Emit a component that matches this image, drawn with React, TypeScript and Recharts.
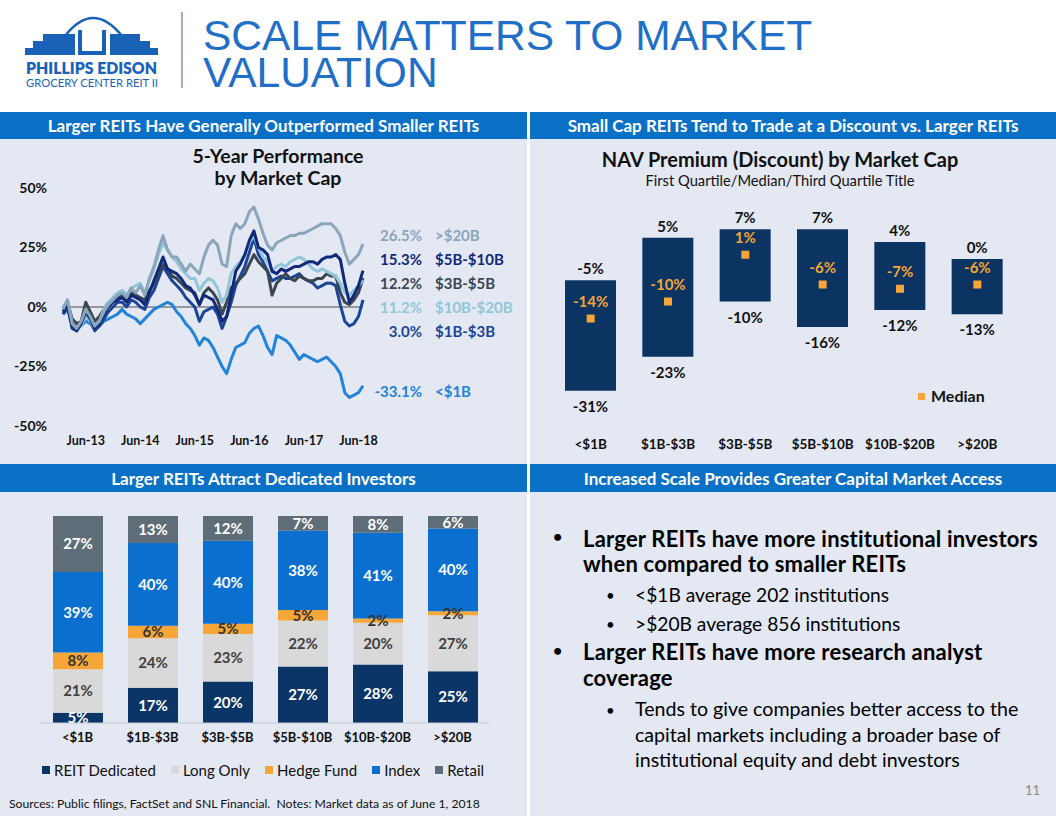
import React from "react";
import {
  LineChart,
  Line,
  XAxis,
  YAxis,
  ReferenceLine,
  BarChart,
  Bar,
  LabelList,
  ComposedChart,
} from "recharts";

const FONT = "Lato, 'Open Sans', sans-serif";
const HEAD_BLUE = "#0a70c6";
const PANEL_BG = "#e3e8f3";

// ---- 5-year performance (monthly, Jan-13 .. Jul-18), % return ----
const perfTicks = [5, 17, 29, 41, 53, 65];
const perfTickLabels = ["Jun-13", "Jun-14", "Jun-15", "Jun-16", "Jun-17", "Jun-18"];

const lt1B = [
  -3, -1, -7, -9, -8, -6, -7, -9, -8, -6, -5, -4, -3, -1, -3,
  -4, -5, -7, -5, -3, -1, 0, 1, 2, 1, -2, -4, -7, -9, -12, -16, -13, -14, -17, -21,
  -25, -28, -22, -17, -16, -15, -11, -9, -8, -12, -17, -20, -12, -13, -14, -16, -19,
  -22, -20, -21, -22, -23, -22, -21, -23, -25, -28, -36, -38, -37, -36, -33.1,
];
const b1to3 = [
  -3, 0, -9, -10, -7, -4, -6, -10, -8, -5, -2, 0, 2, 2, 0,
  3, 2, 0, -1, 4, 7, 12, 17, 14, 11, 9, 7, 4, 2, 0, -6, -2, -1, 0, -3, -9, -4, 2, 9,
  13, 17, 23, 29, 22, 19, 15, 11, 12, 13, 12, 12, 13, 14, 12, 11, 10, 8, 9, 10, 10, 9,
  1, -6, -8, -7, -4, 3.0,
];
const b3to5 = [
  -1, 2, -5, -7, -6, 2, -2, -6, -4, -1, 2, 3, 4, 5, 3,
  6, 5, 4, 3, 7, 10, 14, 18, 16, 13, 12, 10, 8, 7, 6, 1, 6, 8, 6, 3, -3, 2, 8, 10, 12,
  14, 18, 22, 19, 17, 15, 5, 10, 12, 14, 12, 11, 13, 12, 11, 11, 12, 12, 14, 13, 13, 6,
  2, 1, 3, 6, 12.2,
];
const b10to20 = [
  0, 3, -7, -10, -8, -4, -6, -9, -6, -1, 2, 4, 6, 7, 5,
  8, 9, 10, 6, 11, 16, 22, 27, 24, 21, 19, 16, 14, 12, 12, 7, 10, 12, 11, 8, 2, 5, 14,
  17, 19, 22, 27, 30, 25, 21, 19, 15, 17, 18, 17, 19, 20, 21, 20, 18, 16, 15, 16, 15,
  14, 13, 10, 6, 5, 7, 9, 11.2,
];
const b5to10 = [
  -2, 1, -8, -10, -7, -2, -5, -9, -7, -3, 0, 2, 3, 4, 2,
  5, 4, 3, 1, 6, 11, 16, 21, 16, 15, 14, 12, 9, 8, 5, 1, 5, 4, 3, -1, -6, -4, 5, 15, 18,
  22, 28, 32, 25, 24, 22, 15, 14, 16, 15, 16, 17, 17, 18, 19, 19, 18, 20, 21, 21, 22, 20,
  10, 2, 5, 9, 15.3,
];
const gt20B = [
  -1, 3, -7, -9, -6, -1, -4, -8, -6, -2, 1, 3, 5, 6, 4,
  8, 6, 9, 5, 12, 17, 24, 30, 24, 21, 21, 18, 15, 18, 16, 14, 21, 26, 28, 26, 18, 17, 30,
  35, 33, 35, 40, 42, 37, 31, 26, 24, 27, 28, 29, 30, 30, 31, 31, 32, 33, 34, 35, 35, 35,
  33, 30, 23, 18, 20, 22, 26.5,
];

const perfSeries = [
  { key: "lt1B", values: lt1B, color: "#2383d9", label: "<$1B", final: "-33.1%" },
  { key: "b1to3", values: b1to3, color: "#1b4597", label: "$1B-$3B", final: "3.0%" },
  { key: "b3to5", values: b3to5, color: "#3a4651", label: "$3B-$5B", final: "12.2%" },
  { key: "b10to20", values: b10to20, color: "#92c6d9", label: "$10B-$20B", final: "11.2%" },
  { key: "b5to10", values: b5to10, color: "#11297a", label: "$5B-$10B", final: "15.3%" },
  { key: "gt20B", values: gt20B, color: "#8ba5bb", label: ">$20B", final: "26.5%" },
];
// order of the end-labels, top to bottom
const perfLabelOrder = ["gt20B", "b5to10", "b3to5", "b10to20", "b1to3", "lt1B"];
const perfLabelTop = [226, 250, 274, 298, 322, 382];

const perfData = lt1B.map((_, i) => {
  const row: Record<string, number> = { m: i };
  perfSeries.forEach((s) => (row[s.key] = s.values[i]));
  return row;
});

// ---- NAV premium (discount) ----
const navCats = ["<$1B", "$1B-$3B", "$3B-$5B", "$5B-$10B", "$10B-$20B", ">$20B"];
const navQ1 = [-31, -23, -10, -16, -12, -13];
const navMedian = [-14, -10, 1, -6, -7, -6];
const navQ3 = [-5, 5, 7, 7, 4, 0];

const navData = navCats.map((c, i) => ({
  cat: c,
  range: [navQ1[i], navQ3[i]],
  median: navMedian[i],
}));

// ---- investor mix ----
const mixCats = ["<$1B", "$1B-$3B", "$3B-$5B", "$5B-$10B", "$10B-$20B", ">$20B"];
const reitDedicated = [5, 17, 20, 27, 28, 25];
const longOnly = [21, 24, 23, 22, 20, 27];
const hedgeFund = [8, 6, 5, 5, 2, 2];
const indexFunds = [39, 40, 40, 38, 41, 40];
const retail = [27, 13, 12, 7, 8, 6];

const mixData = mixCats.map((c, i) => ({
  cat: c,
  reit: reitDedicated[i],
  longOnly: longOnly[i],
  hedge: hedgeFund[i],
  index: indexFunds[i],
  retail: retail[i],
}));

const mixSeries = [
  { key: "reit", name: "REIT Dedicated", color: "#0b3566", text: "#ffffff" },
  { key: "longOnly", name: "Long Only", color: "#d9d9d9", text: "#404040" },
  { key: "hedge", name: "Hedge Fund", color: "#f5a636", text: "#333333" },
  { key: "index", name: "Index", color: "#0b6fcf", text: "#ffffff" },
  { key: "retail", name: "Retail", color: "#5f6d79", text: "#ffffff" },
];

const RangeLabels = (props: any) => {
  const { x, y, width, height, value } = props;
  if (!Array.isArray(value)) return null;
  const top = Math.min(y, y + height);
  const bottom = Math.max(y, y + height);
  const cx = x + width / 2;
  return (
    <g fontFamily={FONT} fontWeight={700} fontSize={15} fill="#111">
      <text x={cx} y={top - 6} textAnchor="middle">{`${value[1]}%`}</text>
      <text x={cx} y={bottom + 21} textAnchor="middle">{`${value[0]}%`}</text>
    </g>
  );
};

const MedianDot = (props: any) => {
  const { cx, cy, value, index } = props;
  if (cx == null || cy == null) return <g key={index} />;
  return (
    <g key={index}>
      <rect x={cx - 4} y={cy - 4} width={8} height={8} fill="#f5a636" />
      <text
        x={cx}
        y={cy - 12}
        textAnchor="middle"
        fontFamily={FONT}
        fontWeight={700}
        fontSize={15}
        fill="#f5a636"
      >{`${value}%`}</text>
    </g>
  );
};

function Header() {
  return (
    <svg width={1056} height={110} style={{ position: "absolute", left: 0, top: 0 }}>
      <g fill="#1a62b8">
        <path d="M65 36 Q93 0 122 36" stroke="#1a62b8" strokeWidth={2.5} fill="none" />
        <polygon points="25,55 25,48 33,48 33,41 43,41 43,34 75,34 75,55" />
        <polygon points="110,34 140,34 140,41 150,41 150,48 158,48 158,55 110,55" />
        <rect x={78} y={30} width={4} height={25} />
        <rect x={102} y={30} width={4} height={25} />
        <rect x={78} y={51} width={28} height={4} />
        <text
          x={26}
          y={74}
          fontFamily={FONT}
          fontWeight={800}
          fontSize={16}
          textLength={131}
          lengthAdjust="spacingAndGlyphs"
        >PHILLIPS EDISON</text>
        <text
          x={26}
          y={87}
          fontFamily={FONT}
          fontSize={11.5}
          textLength={132}
          lengthAdjust="spacingAndGlyphs"
        >GROCERY CENTER REIT II</text>
      </g>
      <line x1={182} y1={12} x2={182} y2={88} stroke="#7f93b3" strokeWidth={1.5} />
      <g fill="#1f6fc8" fontFamily="'Liberation Sans', Arial, sans-serif" fontSize={42.5}>
        <text x={203} y={50}>SCALE MATTERS TO MARKET</text>
        <text x={203} y={87}>VALUATION</text>
      </g>
    </svg>
  );
}

const barText: React.CSSProperties = {
  position: "absolute",
  background: HEAD_BLUE,
  color: "#fff",
  fontFamily: FONT,
  fontWeight: 700,
  fontSize: 17,
  display: "flex",
  alignItems: "center",
  justifyContent: "center",
  height: 27,
  whiteSpace: "nowrap",
};

export default function App() {
  return (
    <div
      style={{
        position: "absolute",
        left: 0,
        top: 0,
        width: 1056,
        height: 816,
        background: "#fff",
        overflow: "hidden",
        fontFamily: FONT,
      }}
    >
      <Header />

      {/* panels */}
      <div style={{ position: "absolute", left: 0, top: 139, width: 527, height: 325, background: PANEL_BG }} />
      <div style={{ position: "absolute", left: 530, top: 139, width: 526, height: 325, background: PANEL_BG }} />
      <div style={{ position: "absolute", left: 0, top: 492, width: 527, height: 324, background: PANEL_BG }} />
      <div style={{ position: "absolute", left: 530, top: 492, width: 526, height: 324, background: PANEL_BG }} />

      <div style={{ ...barText, left: 0, top: 112, width: 527 }}>Larger REITs Have Generally Outperformed Smaller REITs</div>
      <div style={{ ...barText, left: 530, top: 112, width: 526 }}>Small Cap REITs Tend to Trade at a Discount vs. Larger REITs</div>
      <div style={{ ...barText, left: 0, top: 464, width: 527, height: 28 }}>Larger REITs Attract Dedicated Investors</div>
      <div style={{ ...barText, left: 530, top: 464, width: 526, height: 28 }}>Increased Scale Provides Greater Capital Market Access</div>

      {/* 5-year performance */}
      <div
        style={{
          position: "absolute",
          left: 168,
          top: 145,
          width: 220,
          textAlign: "center",
          fontWeight: 700,
          fontSize: 19.5,
          lineHeight: "22px",
          color: "#111",
        }}
      >
        5-Year Performance
        <br />
        by Market Cap
      </div>
      <div style={{ position: "absolute", left: 0, top: 139 }}>
        <LineChart width={527} height={317} data={perfData} margin={{ top: 49, right: 164, bottom: 0, left: 13 }}>
          <XAxis
            dataKey="m"
            type="number"
            domain={[0, 66]}
            ticks={perfTicks}
            tickFormatter={(v: number) => perfTickLabels[perfTicks.indexOf(v)] ?? ""}
            axisLine={false}
            tickLine={false}
            height={30}
            tickMargin={4}
            tick={{ fontSize: 12.5, fontWeight: 700, fill: "#111", fontFamily: FONT }}
          />
          <YAxis
            width={50}
            domain={[-50, 50]}
            ticks={[-50, -25, 0, 25, 50]}
            tickFormatter={(v: number) => `${v}%`}
            axisLine={false}
            tickLine={false}
            tickMargin={10}
            tick={{ fontSize: 14, fontWeight: 700, fill: "#111", fontFamily: FONT }}
          />
          <ReferenceLine y={0} stroke="#7f7f7f" strokeWidth={1.5} />
          {perfSeries.map((s) => (
            <Line
              key={s.key}
              dataKey={s.key}
              stroke={s.color}
              strokeWidth={3}
              strokeLinejoin="round"
              dot={false}
              activeDot={false}
              type="linear"
              isAnimationActive={false}
            />
          ))}
        </LineChart>
      </div>
      {perfLabelOrder.map((k, i) => {
        const s = perfSeries.find((p) => p.key === k)!;
        return (
          <div
            key={k}
            style={{
              position: "absolute",
              top: perfLabelTop[i],
              left: 340,
              fontWeight: 700,
              fontSize: 15,
              lineHeight: "18px",
              color: s.color,
              whiteSpace: "nowrap",
            }}
          >
            <span style={{ display: "inline-block", width: 82, textAlign: "right" }}>{s.final}</span>
            <span style={{ display: "inline-block", marginLeft: 13 }}>{s.label}</span>
          </div>
        );
      })}

      {/* NAV premium */}
      <div
        style={{
          position: "absolute",
          left: 560,
          top: 148,
          width: 440,
          textAlign: "center",
          color: "#111",
        }}
      >
        <div style={{ fontWeight: 700, fontSize: 20, lineHeight: "23px" }}>NAV Premium (Discount) by Market Cap</div>
        <div style={{ fontSize: 14.7, lineHeight: "18px" }}>First Quartile/Median/Third Quartile Title</div>
      </div>
      <div style={{ position: "absolute", left: 530, top: 140 }}>
        <ComposedChart width={526} height={320} data={navData} margin={{ top: 34, right: 40, bottom: 1, left: 22 }}>
          <XAxis
            dataKey="cat"
            axisLine={false}
            tickLine={false}
            height={30}
            tickMargin={4}
            tick={{ fontSize: 13.5, fontWeight: 700, fill: "#111", fontFamily: FONT }}
          />
          <YAxis hide domain={[-40, 20]} allowDataOverflow />
          <Bar dataKey="range" fill="#0b3463" barSize={51} isAnimationActive={false}>
            <LabelList dataKey="range" content={RangeLabels} />
          </Bar>
          <Line
            dataKey="median"
            stroke="none"
            dot={MedianDot}
            activeDot={false}
            isAnimationActive={false}
          />
        </ComposedChart>
      </div>
      <div
        style={{
          position: "absolute",
          left: 918,
          top: 386,
          fontWeight: 700,
          fontSize: 16,
          color: "#111",
          display: "flex",
          alignItems: "center",
          lineHeight: "20px",
        }}
      >
        <span style={{ width: 7, height: 7, background: "#f5a636", marginRight: 6 }} />
        Median
      </div>

      {/* investor mix */}
      <div style={{ position: "absolute", left: 0, top: 492 }}>
        <BarChart
          width={527}
          height={260}
          data={mixData}
          stackOffset="expand"
          margin={{ top: 24, right: 37, bottom: 1, left: 40 }}
        >
          <XAxis
            dataKey="cat"
            axisLine={{ stroke: "#c5cbd6" }}
            tickLine={false}
            height={28}
            tickMargin={4}
            tick={{ fontSize: 13, fontWeight: 700, fill: "#111", fontFamily: FONT }}
          />
          <YAxis hide domain={[0, 1]} />
          {mixSeries.map((s) => (
            <Bar key={s.key} dataKey={s.key} stackId="a" fill={s.color} barSize={50} isAnimationActive={false}>
              <LabelList
                dataKey={s.key}
                position="center"
                formatter={(v: any) => `${v}%`}
                fill={s.text}
                fontSize={15}
                fontWeight={700}
                fontFamily={FONT}
              />
            </Bar>
          ))}
        </BarChart>
      </div>
      <div
        style={{
          position: "absolute",
          left: 42,
          top: 760,
          display: "flex",
          fontSize: 15,
          color: "#111",
          lineHeight: "20px",
          whiteSpace: "nowrap",
        }}
      >
        {mixSeries.map((s, i) => (
          <span key={s.key} style={{ display: "flex", alignItems: "center", marginRight: i < 4 ? 15 : 0 }}>
            <span style={{ width: 8, height: 8, background: s.color, marginRight: 4 }} />
            {s.name}
          </span>
        ))}
      </div>
      <div style={{ position: "absolute", left: 9, top: 796, fontSize: 12.2, color: "#111", whiteSpace: "nowrap" }}>
        Sources: Public filings, FactSet and SNL Financial.&nbsp; Notes: Market data as of June 1, 2018
      </div>

      {/* capital market access */}
      <div style={{ position: "absolute", left: 530, top: 492, width: 526, height: 324, color: "#000" }}>
        <div style={{ position: "absolute", left: 23, top: 34, fontSize: 16, fontWeight: 700 }}>•</div>
        <div
          style={{
            position: "absolute",
            left: 53,
            top: 34,
            fontSize: 22,
            fontWeight: 700,
            letterSpacing: 0.2,
            lineHeight: "25px",
            whiteSpace: "nowrap",
          }}
        >
          Larger REITs have more institutional investors
          <br />
          when compared to smaller REITs
        </div>
        <div style={{ position: "absolute", left: 76, top: 89, fontSize: 15, lineHeight: "29px" }}>
          •<br />•
        </div>
        <div style={{ position: "absolute", left: 105, top: 88, fontSize: 19.2, lineHeight: "29px", whiteSpace: "nowrap" }}>
          &lt;$1B average 202 institutions
          <br />
          &gt;$20B average 856 institutions
        </div>
        <div style={{ position: "absolute", left: 23, top: 148, fontSize: 16, fontWeight: 700 }}>•</div>
        <div
          style={{
            position: "absolute",
            left: 53,
            top: 147,
            fontSize: 22,
            fontWeight: 700,
            letterSpacing: 0.2,
            lineHeight: "26px",
            whiteSpace: "nowrap",
          }}
        >
          Larger REITs have more research analyst
          <br />
          coverage
        </div>
        <div style={{ position: "absolute", left: 76, top: 205, fontSize: 15, lineHeight: "26px" }}>•</div>
        <div style={{ position: "absolute", left: 105, top: 204, fontSize: 19.6, lineHeight: "25.5px", whiteSpace: "nowrap" }}>
          Tends to give companies better access to the
          <br />
          capital markets including a broader base of
          <br />
          institutional equity and debt investors
        </div>
        <div style={{ position: "absolute", left: 495, top: 290, fontSize: 13, color: "#8c8c8c" }}>11</div>
      </div>
    </div>
  );
}
